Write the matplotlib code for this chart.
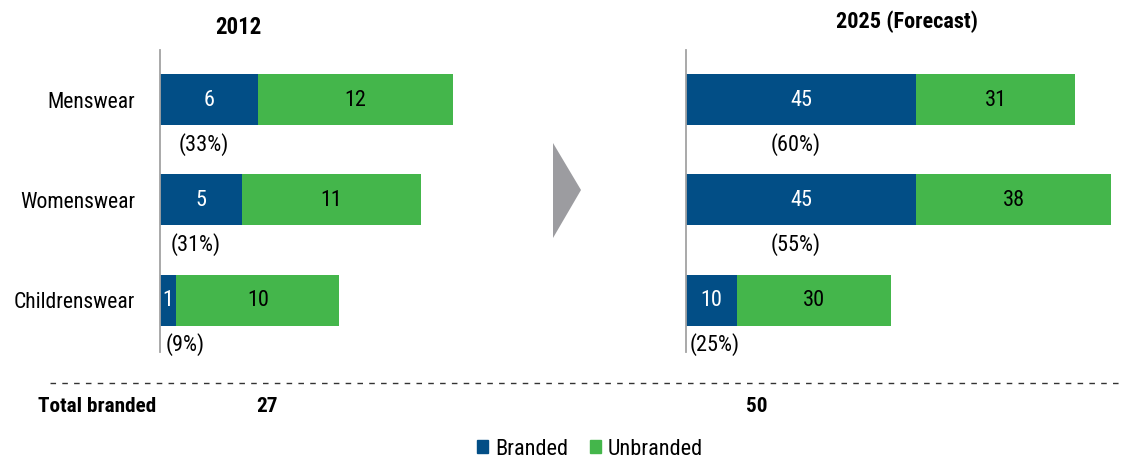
#Branded vs unbranded apparel market
import matplotlib.pyplot as plt
import matplotlib.font_manager as fm
from matplotlib.patches import Polygon, Patch
from matplotlib.lines import Line2D

categories = ["Menswear", "Womenswear", "Childrenswear"]
branded_2012 = [6, 5, 1]
unbranded_2012 = [12, 11, 10]
share_2012 = ["(33%)", "(31%)", "(9%)"]
branded_2025 = [45, 45, 10]
unbranded_2025 = [31, 38, 30]
share_2025 = ["(60%)", "(55%)", "(25%)"]
total_branded = [27, 50]

BLUE = "#024e86"
GREEN = "#44b64b"
GREY = "#a3a3a3"

# condensed font if there is one
available = {f.name for f in fm.fontManager.ttflist}
font = next((f for f in ["Liberation Sans Narrow", "Roboto Condensed", "Arial Narrow"] if f in available), None)
if font is None:
    font = "Liberation Sans"
    k = 0.8
else:
    k = 1.0
plt.rcParams["font.family"] = [font, "DejaVu Sans"]

W, H = 1124, 461
fig = plt.figure(figsize=(W / 100, H / 100), dpi=100)


def px(x, y):
    return x / W, 1 - y / H


def panel(left, width, xmax, branded, unbranded, shares, min_pos, show_labels):
    ax = fig.add_axes([left / W, (H - 352) / H, width / W, 302 / H])
    y = list(range(len(categories)))
    ax.barh(y, branded, height=0.51, color=BLUE, linewidth=0)
    ax.barh(y, unbranded, left=branded, height=0.51, color=GREEN, linewidth=0)
    for i in y:
        ax.text(branded[i] / 2, i, str(branded[i]), ha="center", va="center",
                color="white", fontsize=16 * k)
        ax.text(branded[i] + unbranded[i] / 2, i, str(unbranded[i]), ha="center",
                va="center", color="black", fontsize=16 * k)
        # share label sits under the branded part, a little to the left
        shift = -4 if branded[i] / 2 > min_pos else 0
        ax.annotate(shares[i], (max(branded[i] / 2, min_pos), i + 0.45),
                    xytext=(shift, 0), textcoords="offset points",
                    ha="center", va="center", fontsize=16 * k)
    ax.set_xlim(0, xmax)
    ax.set_ylim(2.52, -0.5)
    ax.set_xticks([])
    ax.set_yticks(y)
    ax.set_yticklabels(categories if show_labels else [], fontsize=15.6 * k)
    ax.tick_params(axis="y", length=0, pad=18)
    for s in ["top", "right", "bottom"]:
        ax.spines[s].set_visible(False)
    ax.spines["left"].set_color(GREY)
    ax.spines["left"].set_linewidth(1.3)
    return ax


panel(160, 330, 330 / 16.3, branded_2012, unbranded_2012, share_2012, 1.55, True)
panel(686, 434, 434 / 5.12, branded_2025, unbranded_2025, share_2025, 5.7, False)

# titles
fig.text(*px(238, 28), "2012", ha="center", va="center", fontsize=16.5 * k, fontweight="bold")
fig.text(*px(907, 22), "2025 (Forecast)", ha="center", va="center", fontsize=16 * k,
         fontweight="bold")

# arrow between panels
arrow = Polygon([px(553, 143), px(581, 190), px(553, 238)], closed=True,
                transform=fig.transFigure, color="#9c9ca0", linewidth=0)
fig.add_artist(arrow)

# dashed separator
x0, y0 = px(50, 383)
x1, _ = px(1120, 383)
fig.add_artist(Line2D([x0, x1], [y0, y0], transform=fig.transFigure, color="#333333",
                      linewidth=1, linestyle=(0, (4, 4.5))))

# totals
fig.text(*px(38, 406), "Total branded", ha="left", va="center", fontsize=15.3 * k,
         fontweight="bold")
fig.text(*px(267, 406), str(total_branded[0]), ha="center", va="center", fontsize=15.3 * k,
         fontweight="bold")
fig.text(*px(757, 406), str(total_branded[1]), ha="center", va="center", fontsize=15.3 * k,
         fontweight="bold")

# legend
handles = [Patch(color=BLUE, label="Branded"), Patch(color=GREEN, label="Unbranded")]
fig.legend(handles=handles, loc="center", bbox_to_anchor=px(590, 449), ncol=2,
           frameon=False, fontsize=16 * k, handlelength=0.5, handleheight=0.5,
           handletextpad=0.3, columnspacing=1.0, borderpad=0)

fig.savefig("out.png", dpi=100)
